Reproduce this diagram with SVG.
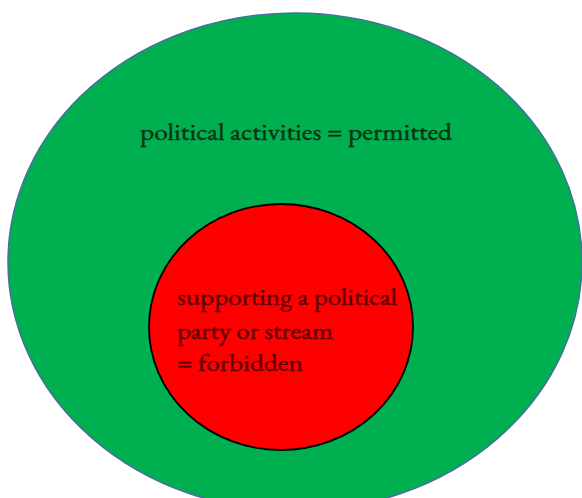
<svg xmlns="http://www.w3.org/2000/svg" width="582" height="498" viewBox="0 0 582 498">
  <style>
    .outer { fill: #00B050; stroke: #41719C; stroke-width: 1.5; }
    .inner { fill: #FF0000; stroke: #000000; stroke-width: 1.8; }
    .lbl { font-family: "EB Garamond", "Liberation Serif", "DejaVu Serif", serif; font-size: 24px; stroke-width: 0.45; }
    .lbl-outer { fill: #083315; stroke: #083315; }
    .lbl-inner { fill: #600000; stroke: #600000; }
  </style>
  <rect width="582" height="498" fill="#ffffff"/>
  <g id="permitted">
    <ellipse class="outer" cx="295" cy="262" rx="287" ry="249"/>
    <text class="lbl lbl-outer" x="140" y="140" textLength="312" lengthAdjust="spacingAndGlyphs">political activities = permitted</text>
  </g>
  <g id="forbidden">
    <ellipse class="inner" cx="281" cy="327" rx="132" ry="123"/>
    <text class="lbl lbl-inner" x="177" y="305" textLength="220" lengthAdjust="spacingAndGlyphs">supporting a political</text>
    <text class="lbl lbl-inner" x="177" y="339" textLength="156" lengthAdjust="spacingAndGlyphs">party or stream</text>
    <text class="lbl lbl-inner" x="177" y="371" textLength="126" lengthAdjust="spacingAndGlyphs">= forbidden</text>
  </g>
  <g id="connectors"/>
</svg>
